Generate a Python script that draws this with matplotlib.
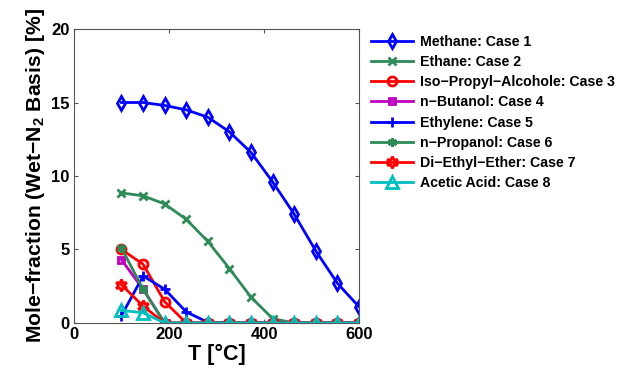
import matplotlib
matplotlib.use("Agg")
import matplotlib.pyplot as plt

plt.rcParams['font.family'] = ['Liberation Sans', 'DejaVu Sans']
plt.rcParams['font.weight'] = 'bold'
plt.rcParams['mathtext.fontset'] = 'custom'
plt.rcParams['mathtext.bf'] = 'Liberation Sans:bold'
plt.rcParams['mathtext.rm'] = 'Liberation Sans:bold'
plt.rcParams['mathtext.default'] = 'bf'

# temperature grid [C]
temps = [100, 145.45, 190.91, 236.36, 281.82, 327.27, 372.73, 418.18, 463.64, 509.09, 554.55, 600]

methane = [15.0, 15.0, 14.8, 14.5, 14.0, 13.0, 11.6, 9.6, 7.4, 4.9, 2.7, 1.1]
ethane = [8.85, 8.65, 8.1, 7.05, 5.55, 3.7, 1.75, 0.3, 0, 0, 0, 0]
ipa = [5.0, 4.0, 1.45, 0, 0, 0, 0, 0, 0, 0, 0, 0]
butanol = [4.3, 2.3, 0, 0, 0, 0, 0, 0, 0, 0, 0, 0]
ethylene = [0.5, 3.2, 2.3, 0.75, 0.05, 0, 0, 0, 0, 0, 0, 0]
propanol = [5.1, 2.3, 0, 0, 0, 0, 0, 0, 0, 0, 0, 0]
dee = [2.6, 1.15, 0, 0, 0, 0, 0, 0, 0, 0, 0, 0]
acetic = [0.85, 0.7, 0, 0, 0, 0, 0, 0, 0, 0, 0, 0]

M = '\u2212'
labels = ['Methane: Case 1', 'Ethane: Case 2', f'Iso{M}Propyl{M}Alcohole: Case 3',
          f'n{M}Butanol: Case 4', 'Ethylene: Case 5', f'n{M}Propanol: Case 6',
          f'Di{M}Ethyl{M}Ether: Case 7', 'Acetic Acid: Case 8']

green = '#2e8b57'
styles = [
    dict(color='#0000ff', marker='d', mfc='none', ms=7),
    dict(color=green, marker='x', ms=5.5),
    dict(color='#ff0000', marker='o', mfc='none', ms=6.5),
    dict(color='#bf00bf', marker='s', mfc='none', ms=5),
    dict(color='#0000ff', marker='+', ms=7.5),
    dict(color=green, marker=(6, 2, 0), ms=6.5),
    dict(color='#ff0000', marker=(6, 1, 0), mfc='none', ms=8.5),
    dict(color='#00bfbf', marker='^', mfc='none', ms=8),
]
series = [methane, ethane, ipa, butanol, ethylene, propanol, dee, acetic]

fig = plt.figure(figsize=(6.19, 3.71), dpi=100)
ax = fig.add_axes([0.1195, 0.1294, 0.4605, 0.7924])

for vals, lab, st in zip(series, labels, styles):
    ax.plot(temps, vals, lw=2, mew=2, label=lab, **st)

ax.set_xlim(0, 600)
ax.set_ylim(0, 20)
ax.set_xticks([0, 200, 400, 600])
ax.set_yticks([0, 5, 10, 15, 20])
ax.tick_params(direction='in', top=True, right=True, labelsize=12, length=3,
               width=0.8, color='#555555', pad=3)
for lbl in ax.get_xticklabels() + ax.get_yticklabels():
    lbl.set_fontweight('bold')
for sp in ax.spines.values():
    sp.set_color('#555555')
    sp.set_linewidth(0.8)

ax.set_xlabel('T [°C]', fontsize=15.5, fontweight='bold', labelpad=1)
ax.set_ylabel(f'Mole{M}fraction (Wet{M}N$_2$ Basis) [%]', fontsize=15.2,
              fontweight='bold', labelpad=3)

ax.legend(loc='upper left', bbox_to_anchor=(1.012, 1.01), frameon=False,
          prop={'size': 10.2, 'weight': 'bold'}, handlelength=3.0,
          handletextpad=0.45, labelspacing=0.44, borderaxespad=0.2)

fig.savefig('out.png', dpi=100)
